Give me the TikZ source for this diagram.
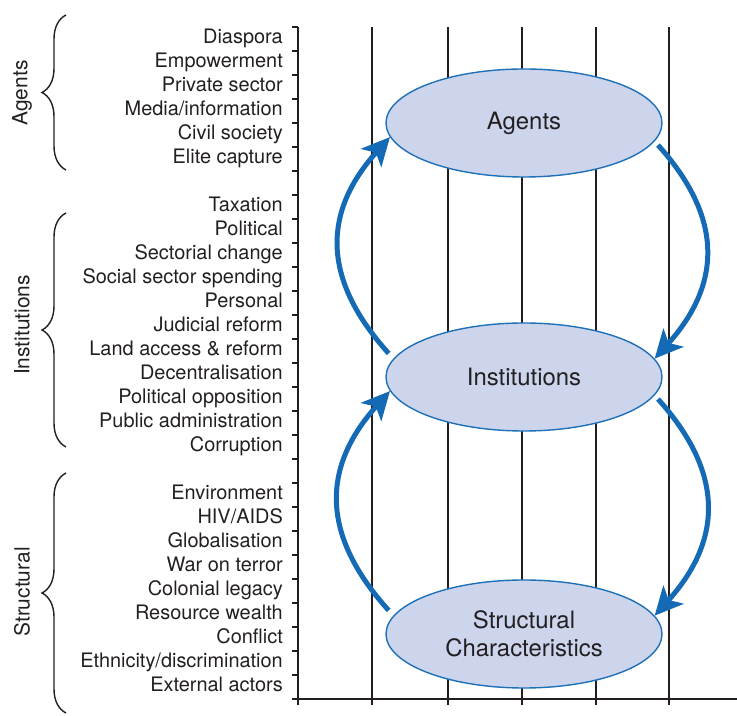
\documentclass[tikz,border=0pt]{standalone}
\usepackage{fontspec}
\setmainfont{TeX Gyre Heros}
\usetikzlibrary{decorations.pathreplacing,shapes,arrows.meta,positioning}

\definecolor{ovalfill}{RGB}{204,213,236}
\definecolor{ovalline}{RGB}{30,112,184}
\definecolor{flowblue}{RGB}{21,106,181}
\definecolor{inkgray}{RGB}{35,31,32}

\tikzset{
  factor/.style={anchor=base east,inner sep=0pt,text=inkgray,font=\fontsize{20}{24}\selectfont},
  group/.style={rotate=90,inner sep=0pt,text=inkgray,font=\fontsize{21}{25}\selectfont},
  oval/.style={ellipse,draw=ovalline,line width=1.4bp,fill=ovalfill,minimum width=276bp,minimum height=108bp,
    inner sep=0pt,align=center,text=inkgray,font=\fontsize{24}{28}\selectfont},
  flow/.style={draw=flowblue,line width=5bp,-{Stealth[length=28bp,width=27bp,inset=7bp]}},
  gbrace/.style={decorate,decoration={brace,mirror,amplitude=24bp},line width=1.4bp,draw=inkgray},
  grid/.style={line width=1.4bp,draw=inkgray}
}

\begin{document}
\begin{tikzpicture}[x=1bp,y=1bp]
\useasboundingbox (0,0) rectangle (737,716);

% grid and axes
\foreach \x in {372,448,522,596,669}
  \draw[grid] (\x,17) -- (\x,689);
\draw[grid] (298,689) -- (298,17) -- (737,17);
\foreach \k in {0,...,28}
  \draw[grid] (298,{689-24*\k}) -- ++(-6,0);
\foreach \x in {298,372,448,522,596,669}
  \draw[grid] (\x,17) -- ++(0,-6);

% factor lists
\foreach \lab [count=\n from 0] in {Diaspora,Empowerment,Private sector,Media/information,Civil society,Elite capture}
  \node[factor] (ag\n) at (283,{672-24*\n}) {\lab};
\foreach \lab [count=\n from 7] in {Taxation,Political,Sectorial change,Social sector spending,Personal,Judicial reform,Land access \& reform,Decentralisation,Political opposition,Public administration,Corruption}
  \node[factor] (in\n) at (283,{672-24*\n}) {\lab};
\foreach \lab [count=\n from 19] in {Environment,HIV/AIDS,Globalisation,War on terror,Colonial legacy,Resource wealth,Conflict,Ethnicity/discrimination,External actors}
  \node[factor] (st\n) at (283,{672-24*\n}) {\lab};

% groups
\draw[gbrace] (66,701) -- (66,546);
\draw[gbrace] (66,503) -- (66,269);
\draw[gbrace] (66,243) -- (66,3);
\node[group] (gagents) at (22,623) {Agents};
\node[group] (ginst) at (22,391) {Institutions};
\node[group] (gstruct) at (22,124) {Structural};

% cycle
\node[oval] (agents) at (524,593) {Agents};
\node[oval] (inst) at (524,339) {Institutions};
\node[oval] (struct) at (524,82) {Structural\\Characteristics};

\draw[flow,shorten <=7bp] (inst.172) to[out=132,in=228,looseness=1.2] (agents.186);
\draw[flow,shorten <=5bp] (agents.-8) to[out=-48,in=48,looseness=1.2] (inst.8);
\draw[flow,shorten <=7bp] (struct.172) to[out=132,in=228,looseness=1.2] (inst.186);
\draw[flow,shorten <=5bp] (inst.-8) to[out=-48,in=48,looseness=1.2] (struct.8);
\end{tikzpicture}
\end{document}
